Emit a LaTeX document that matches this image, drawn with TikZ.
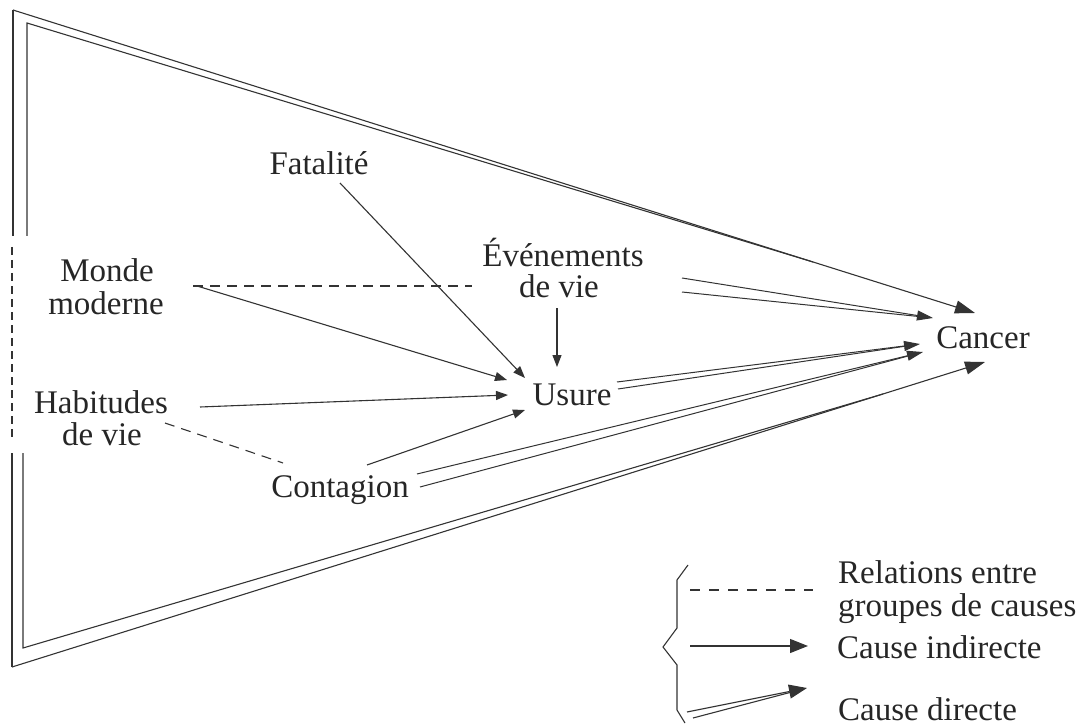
\documentclass[tikz,border=0pt]{standalone}
\usepackage{fontspec}
\setmainfont{Liberation Serif}
\usetikzlibrary{arrows.meta}
\begin{document}
\begin{tikzpicture}[x=1pt,y=-1pt,
  lbl/.style={anchor=base,inner sep=0pt,font=\fontsize{33}{38}\selectfont,text=black!85},
  lgd/.style={lbl,anchor=base west},
  ln/.style={line width=1.1pt,draw=black!80},
  ind/.style={ln,-{Triangle[length=12pt,width=9pt]}},
  dirarr/.style={ln,line width=1pt,-{Triangle[length=16pt,width=10pt]}},
  dirln/.style={ln,line width=1pt,shorten >=12pt},
  rel/.style={ln,dash pattern=on 10pt off 7pt},
  bigarr/.style={ln,line width=1.1pt,-{Triangle[length=20pt,width=13pt]}},
  lgdarr/.style={ln,line width=1.1pt,-{Triangle[length=18pt,width=14pt]}},
]
\useasboundingbox (0,0) rectangle (1089,727);

% labels
\node[lbl] (fat) at (319,175) {Fatalité};
\node[lbl] (monde) at (107,282) {Monde};
\node[lbl] (moderne) at (106,314) {moderne};
\node[lbl] (evt) at (563,267) {Événements};
\node[lbl] (evtvie) at (559,298) {de vie};
\node[lbl] (usure) at (572,405) {Usure};
\node[lbl] (cancer) at (983,348) {Cancer};
\node[lbl] (hab) at (101,413) {Habitudes};
\node[lbl] (habvie) at (102,445) {de vie};
\node[lbl] (cont) at (340,497) {Contagion};

% frame (big triangle)
\coordinate (tlo) at (13,10);
\coordinate (tli) at (27,23);
\coordinate (mto) at (13,236);
\coordinate (mti) at (27,236);
\coordinate (dsa) at (12,247);
\coordinate (dsb) at (12,440);
\coordinate (mbo) at (12,453);
\coordinate (mbi) at (23,453);
\coordinate (blo) at (12,667);
\coordinate (bli) at (23,648);
\coordinate (topm) at (813,262);
\coordinate (botm) at (883,394);
\draw[ln] (mto) -- (tlo);
\draw[bigarr] (tlo) -- ([shift={(-8,-35)}]cancer.base);
\draw[ln] (mti) -- (tli) -- (topm);
\draw[ln,dash pattern=on 8pt off 5pt] (dsa) -- (dsb);
\draw[ln] (mbo) -- (blo);
\draw[bigarr] (blo) -- ([shift={(2,14)}]cancer.base);
\draw[ln] (mbi) -- (bli) -- (botm);

% indirect causes
\draw[ind] ([shift={(21,8)}]fat.base) -- ([shift={(-47,-27)}]usure.base);
\draw[ind] ([shift={(90,4)}]monde.base) -- ([shift={(-65,-25)}]usure.base);
\draw[ind] ([shift={(-2,10)}]evtvie.base) -- ([shift={(-15,-38)}]usure.base);
\draw[ind] ([shift={(99,-6)}]hab.base) -- ([shift={(-64,-10)}]usure.base);
\draw[ind] ([shift={(27,-32)}]cont.base) -- ([shift={(-47,5)}]usure.base);

% relations
\draw[rel] ([shift={(86,4)}]monde.base) -- ([shift={(-91,19)}]evt.base);
\draw[rel] ([shift={(64,10)}]hab.base) -- ([shift={(-57,-34)}]cont.base);

% direct causes (double lines)
\draw[dirarr] ([shift={(119,11)}]evt.base) -- ([shift={(-50,-30)}]cancer.base);
\draw[dirln] ([shift={(119,25)}]evt.base) -- ([shift={(-50,-30)}]cancer.base);
\draw[dirarr] ([shift={(45,-23)}]usure.base) -- ([shift={(-63,-4)}]cancer.base);
\draw[dirln] ([shift={(46,-16)}]usure.base) -- ([shift={(-63,-4)}]cancer.base);
\draw[dirarr] ([shift={(77,-23)}]cont.base) -- ([shift={(-60,4)}]cancer.base);
\draw[dirln] ([shift={(80,-10)}]cont.base) -- ([shift={(-60,4)}]cancer.base);

% legend
\node[lgd] (lrel1) at (838,583) {Relations entre};
\node[lgd] (lrel2) at (838,616) {groupes de causes};
\node[lgd] (lind) at (837,658) {Cause indirecte};
\node[lgd] (ldir) at (838,720) {Cause directe};
\draw[ln] (688,565) -- (677,580) -- (677,628) -- (663,647) -- (677,665) -- (677,710) -- (685,723);
\draw[ln,dash pattern=on 10pt off 9pt] ([shift={(-148,7)}]lrel1.base west) -- ([shift={(-25,7)}]lrel1.base west);
\draw[lgdarr] ([shift={(-147,-12)}]lind.base west) -- ([shift={(-29,-12)}]lind.base west);
\draw[lgdarr] ([shift={(-151,-8)}]ldir.base west) -- ([shift={(-31,-32)}]ldir.base west);
\draw[ln,shorten >=12pt] ([shift={(-145,-2)}]ldir.base west) -- ([shift={(-31,-32)}]ldir.base west);
\end{tikzpicture}
\end{document}
